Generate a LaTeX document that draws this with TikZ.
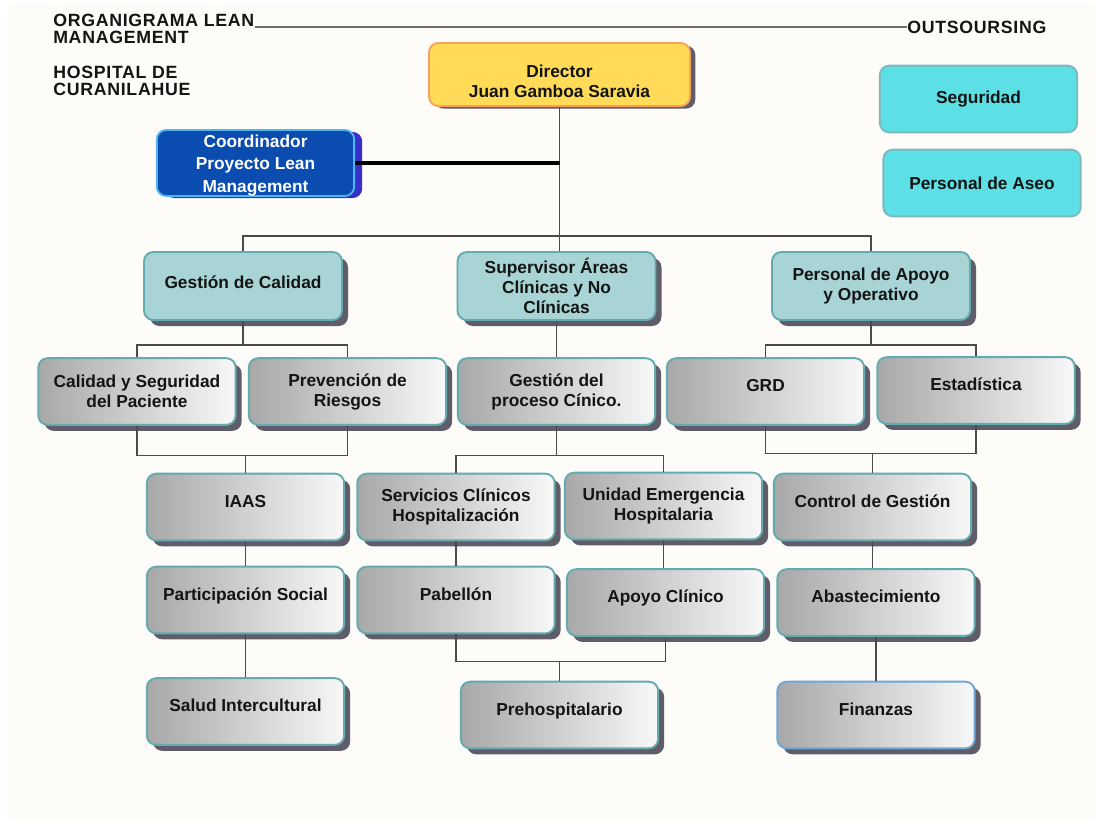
\documentclass[tikz,border=0pt]{standalone}
\usepackage{fontspec}
\setmainfont{Liberation Sans}
\newfontfamily\titlefont[LetterSpace=4]{Liberation Sans}
\usetikzlibrary{shadows,calc,positioning}
\definecolor{papel}{HTML}{FDFCF8}
\definecolor{tinta}{HTML}{141414}
\definecolor{linea}{HTML}{4A4A4A}
\definecolor{sombra}{HTML}{5E5D69}
\definecolor{amarillo}{HTML}{FFDB58}
\definecolor{naranja}{HTML}{F7A15C}
\definecolor{azul}{HTML}{0A4CB0}
\definecolor{celeste}{HTML}{4DB6F0}
\definecolor{violeta}{HTML}{3A30C8}
\definecolor{verdeagua}{HTML}{A8D4D5}
\definecolor{bordeagua}{HTML}{62ABAE}
\definecolor{grisA}{HTML}{A8A8A8}
\definecolor{grisB}{HTML}{F8F8F8}
\definecolor{turquesa}{HTML}{5CE0E5}
\definecolor{bordeturq}{HTML}{7CB9BE}
\definecolor{bordeazul}{HTML}{6EA6D6}
\tikzset{
    caja/.style={rounded corners=7pt,line width=1.4pt,minimum width=148pt,minimum height=50pt,
        align=center,inner sep=2pt,text=tinta,font=\fontsize{13}{15}\selectfont\bfseries},
    sombreada/.style={drop shadow={shadow xshift=4.5pt,shadow yshift=-4.5pt,fill=sombra,opacity=1}},
    area/.style={caja,sombreada,fill=verdeagua,draw=bordeagua,minimum width=148.5pt,minimum height=51pt},
    unidad/.style={caja,sombreada,left color=grisA,right color=grisB,draw=bordeagua},
    externo/.style={caja,fill=turquesa,draw=bordeturq},
    una/.style={text height=9.5pt,text depth=9.5pt},
    titulo/.style={anchor=north west,inner sep=0pt,align=left,text=tinta,
        font=\titlefont\bfseries\fontsize{13.3}{12.75}\selectfont},
    link/.style={draw=linea,line width=0.9pt},
    link grueso/.style={draw=black,line width=3pt}
}
\begin{document}
\begin{tikzpicture}[x=0.75pt,y=-0.75pt]
    \useasboundingbox (0,0) rectangle (1098,824);
    \fill[white] (0,0) rectangle (1098,824);
    \fill[papel] (8,4) rectangle (1096,820);

    \node[titulo] (title) at (53,14) {ORGANIGRAMA LEAN\\MANAGEMENT};
    \node[titulo] (hosp) at (53,66) {HOSPITAL DE\\CURANILAHUE};
    \node[titulo,anchor=west] (outs) at (907,27) {OUTSOURSING};
    \draw[link,draw=linea!80] (outs.west) -- (outs.west -| title.east);

    \node[caja,fill=amarillo,draw=naranja,minimum width=195.75pt,minimum height=47.25pt,
        text height=37.5pt,text depth=3pt,
        drop shadow={shadow xshift=4pt,shadow yshift=-2pt,fill=sombra,opacity=1}]
        (director) at (559.5,74.5) {Director\\Juan Gamboa Saravia};
    \node[caja,fill=azul,draw=celeste,text=white,font=\fontsize{13}{17}\selectfont\bfseries,
        text height=46pt,text depth=2pt,inner ysep=0pt,minimum height=49.5pt,
        drop shadow={shadow xshift=6pt,shadow yshift=-1.5pt,fill=violeta,opacity=1}]
        (coord) at (255.5,163) {Coordinador\\Proyecto Lean\\Management};
    \node[externo] (seg) at (978.5,99) {Seguridad};
    \node[externo] (aseo) at (982,183) {Personal de Aseo};

    \node[area,text height=9.5pt,text depth=6.2pt] (calidad) at (243,286) {Gestión de Calidad};
    \node[area] (superv) at (556.5,286) {Supervisor Áreas\\Clínicas y No\\Clínicas};
    \node[area] (apoyo) at (871,286) {Personal de Apoyo\\y Operativo};

    \node[unidad] (cys) at (137,391.5) {Calidad y Seguridad\\del Paciente};
    \node[unidad] (prev) at (347.5,391.5) {Prevención de\\Riesgos};
    \node[unidad] (gproc) at (556.5,391.5) {Gestión del\\proceso Cínico.};
    \node[unidad,una] (grd) at (765.5,391.5) {GRD};
    \node[unidad,una] (estad) at (976,390.5) {Estadística};

    \node[unidad,una] (iaas) at (245.5,507) {IAAS};
    \node[unidad] (serv) at (456,507) {Servicios Clínicos\\Hospitalización};
    \node[unidad] (ueh) at (663.5,506) {Unidad Emergencia\\Hospitalaria};
    \node[unidad,una] (cdg) at (872.5,507) {Control de Gestión};

    \node[unidad,una] (psoc) at (245.5,600) {Participación Social};
    \node[unidad,una] (pab) at (456,600) {Pabellón};
    \node[unidad,una] (acl) at (665.5,602.5) {Apoyo Clínico};
    \node[unidad,una] (abas) at (876,602.5) {Abastecimiento};

    \node[unidad,una] (salud) at (245.5,711.5) {Salud Intercultural};
    \node[unidad,una] (preh) at (559.5,715) {Prehospitalario};
    \node[unidad,una,draw=bordeazul] (fin) at (876,715) {Finanzas};

    \draw[link] (director.south) -- ++(0,129) coordinate (b0) -- (b0 |- superv.north);
    \draw[link] (calidad.north) |- (b0) -| (apoyo.north);
    \draw[link grueso] (coord.east) -- (coord.east -| director.south);

    \draw[link] (calidad.south) -- ++(0,24) coordinate (b1);
    \draw[link] (cys.north) |- (b1) -| (prev.north);
    \draw[link] (superv.south) -- (gproc.north);
    \draw[link] (apoyo.south) -- ++(0,24) coordinate (b2);
    \draw[link] (grd.north) |- (b2) -| (estad.north);

    \draw[link] (cys.south) -- ++(0,30) coordinate (b3) -| (prev.south);
    \draw[link] (iaas.north) -- (iaas.north |- b3);
    \draw[link] (gproc.south) -- ++(0,30) coordinate (b4);
    \draw[link] (serv.north) |- (b4) -| (ueh.north);
    \draw[link] (grd.south) -- ++(0,28) coordinate (b5) -| (estad.south);
    \draw[link] (cdg.north) -- (cdg.north |- b5);

    \draw[link] (iaas.south) -- (psoc.north);
    \draw[link] (psoc.south) -- (salud.north);
    \draw[link] (serv.south) -- (pab.north);
    \draw[link] (ueh.south) -- (ueh.south |- acl.north);
    \draw[link] (cdg.south) -- (cdg.south |- abas.north);
    \draw[link] (abas.south) -- (fin.north);
    \draw[link] (pab.south) -- ++(0,27) coordinate (b6) -| (acl.south);
    \draw[link] (preh.north) -- (preh.north |- b6);
\end{tikzpicture}
\end{document}
